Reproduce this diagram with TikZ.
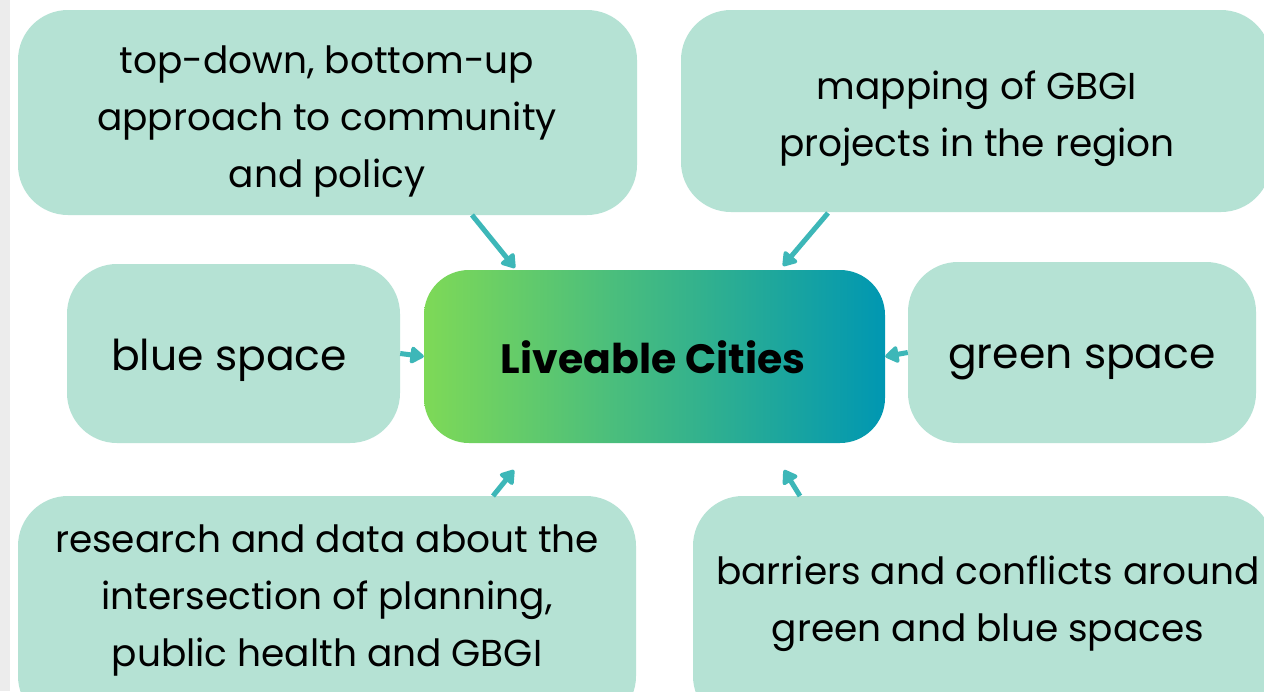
\documentclass[tikz,border=0pt]{standalone}
\usepackage{fontspec}
\setmainfont{Poppins}
\usetikzlibrary{arrows.meta}
\definecolor{boxfill}{HTML}{B5E2D4}
\definecolor{arrowc}{HTML}{3DB7B8}
\definecolor{gleft}{HTML}{7ED957}
\definecolor{gright}{HTML}{0097B2}
\definecolor{stripc}{HTML}{ECECEC}
\tikzset{
  idea/.style={draw=none, fill=boxfill, rounded corners=50pt, inner sep=0pt},
  hub/.style={draw=none, rounded corners=45pt, left color=gleft, right color=gright, inner sep=0pt},
  lbl/.style={align=center, font=\fontsize{37.5}{57}\selectfont, inner sep=0pt},
  biglbl/.style={align=center, font=\fontsize{42.5}{57}\selectfont, inner sep=0pt},
  link/.style={draw=arrowc, line width=5pt, -{Triangle[length=15pt,width=19pt,round]}}
}
\begin{document}
\begin{tikzpicture}[x=1pt,y=-1pt]
\useasboundingbox (0,0) rectangle (1264,691);
\clip (0,0) rectangle (1264,691);
\fill[white] (0,0) rectangle (1264,691);
\fill[stripc] (0,0) rectangle (10,691);

\node[idea, minimum width=619pt, minimum height=205pt] (tl) at (327.5,112.5) {};
\node[idea, minimum width=590pt, minimum height=202pt] (tr) at (976,111) {};
\node[idea, minimum width=333pt, minimum height=179pt] (bl) at (233.5,353.5) {};
\node[hub, minimum width=461pt, minimum height=173pt] (hub) at (654.5,356.5) {};
\node[idea, minimum width=348pt, minimum height=181pt] (gs) at (1082,352.5) {};
\node[idea, minimum width=618pt, minimum height=230pt] (rd) at (327,611) {};
\node[idea, minimum width=580pt, minimum height=230pt] (bc) at (983,611) {};

\node[lbl] (tlt) at (327,121) {top-down, bottom-up\\approach to community\\and policy};
\node[lbl] (trt) at (977,119) {mapping of GBGI\\projects in the region};
\node[biglbl] (blt) at (229,360) {blue space};
\node[font=\fontsize{41}{45}\selectfont\bfseries, inner sep=0pt] (hubt) at (653,357) {Liveable Cities};
\node[biglbl] (gst) at (1082,362) {green space};
\node[lbl] (rdt) at (327,600) {research and data about the\\intersection of planning,\\public health and GBGI};
\node[lbl] (bct) at (988,604) {barriers and conflicts around\\green and blue spaces};

\coordinate (a1) at (472,215); \coordinate (a1e) at (515,268);
\coordinate (a2) at (828,213); \coordinate (a2e) at (783,266);
\coordinate (a5) at (493,496); \coordinate (a5e) at (514,470);
\coordinate (a6) at (800,496); \coordinate (a6e) at (784,470);
\draw[link] (a1) -- (a1e);
\draw[link] (a2) -- (a2e);
\draw[link] (bl.east) -- (hub.west);
\draw[link] (gs.west) -- (hub.east);
\draw[link] (a5) -- (a5e);
\draw[link] (a6) -- (a6e);
\end{tikzpicture}
\end{document}
